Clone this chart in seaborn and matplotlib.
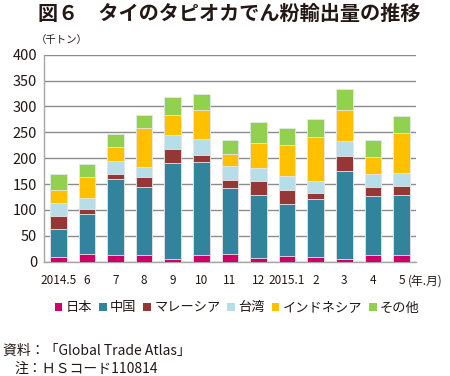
import matplotlib
matplotlib.use("Agg")
import matplotlib.pyplot as plt
from matplotlib.patches import Patch
import numpy as np
import pandas as pd
import seaborn as sns

months = ["2014.5", "6", "7", "8", "9", "10", "11", "12", "2015.1", "2", "3", "4", "5"]
japan = [10, 15, 12, 13, 5, 12, 14, 8, 11, 10, 6, 12, 12]
china = [54, 77, 147, 131, 186, 180, 128, 120, 100, 111, 169, 114, 117]
malaysia = [25, 10, 10, 20, 27, 15, 15, 28, 28, 12, 30, 19, 17]
taiwan = [24, 22, 25, 19, 26, 31, 27, 25, 27, 23, 28, 25, 25]
indonesia = [26, 39, 27, 75, 39, 55, 25, 48, 59, 85, 61, 32, 78]
other = [31, 26, 26, 26, 36, 31, 27, 41, 34, 35, 40, 33, 32]

series = ["日本", "中国", "マレーシア", "台湾", "インドネシア", "その他"]
colors = ["#CC0066", "#31849B", "#953735", "#B7DEE8", "#FFC000", "#92D050"]

df = pd.DataFrame({"month": months, "日本": japan, "中国": china, "マレーシア": malaysia,
                   "台湾": taiwan, "インドネシア": indonesia, "その他": other})
cum = df[series].cumsum(axis=1)

sns.set_style("white")
plt.rcParams["font.family"] = ["Noto Sans CJK JP", "DejaVu Sans"]
txt = "#231815"

fig = plt.figure(figsize=(4.5, 3.76), dpi=100)
ax = fig.add_axes([0.098, 0.304, 0.826, 0.5505])

# stacked bars: draw cumulative totals from top series down
for s, c in reversed(list(zip(series, colors))):
    sns.barplot(x=df["month"], y=cum[s], order=months, color=c, width=0.58,
                edgecolor="#E8E8E8", linewidth=0.6, saturation=1, ax=ax, zorder=3)

ax.set_ylim(0, 400)
ax.set_xlim(-0.5, len(months) - 0.5)
ax.set_yticks(range(0, 401, 50))
ax.yaxis.grid(True, color="#8C8C8C", linewidth=1.0, zorder=0)
ax.set_axisbelow(True)
for sp in ["top", "right"]:
    ax.spines[sp].set_visible(False)
for sp in ["left", "bottom"]:
    ax.spines[sp].set_color("#A6A6A6")
    ax.spines[sp].set_linewidth(1.0)
ax.set_xlabel("")
ax.set_ylabel("")
ax.set_xticks(np.arange(-0.5, len(months), 1), minor=True)
ax.tick_params(axis="x", which="major", length=0, labelsize=8.5, colors=txt, pad=9)
ax.tick_params(axis="x", which="minor", length=4, color="#A6A6A6", width=1)
ax.tick_params(axis="y", length=2, color="#A6A6A6", labelsize=10.5, labelcolor=txt, pad=3)

ax.text(len(months) - 0.78, -38, "(年.月)", fontsize=8.5, color=txt, va="center",
        ha="left", clip_on=False)

fig.text(0.51, 0.963, "図６　タイのタピオカでん粉輸出量の推移", fontsize=14.5,
         fontweight="bold", color=txt, ha="center", va="center")
fig.text(0.08, 0.893, "（千トン）", fontsize=7.5, color=txt, ha="left", va="center")

handles = [Patch(facecolor=c, edgecolor="none", label=s) for s, c in zip(series, colors)]
fig.legend(handles=handles, loc="center", bbox_to_anchor=(0.527, 0.181), ncol=6,
           frameon=False, fontsize=9.5, handlelength=0.6, handleheight=0.6,
           handletextpad=0.25, columnspacing=0.5, labelcolor=txt)

fig.text(0.007, 0.068, "資料：「Global Trade Atlas」", fontsize=10, color=txt,
         ha="left", va="center")
fig.text(0.033, 0.018, "注：ＨＳコード110814", fontsize=10, color=txt,
         ha="left", va="center")

fig.savefig("out.png", dpi=100)
